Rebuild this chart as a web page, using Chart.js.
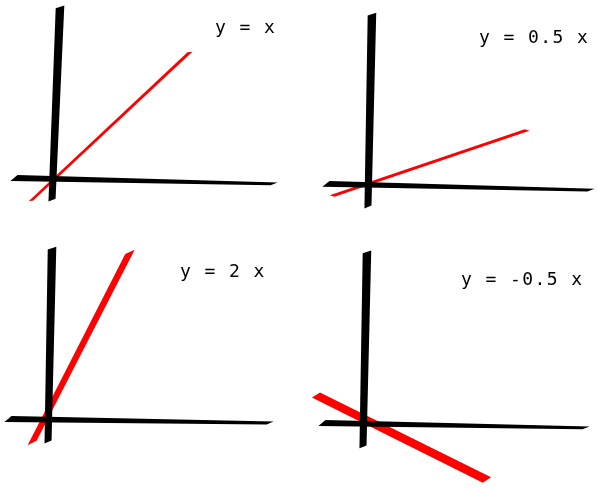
<!DOCTYPE html>
<html>
<head>
<meta charset="utf-8">
<script src="https://cdn.jsdelivr.net/npm/chart.js@4.4.1/dist/chart.umd.min.js"></script>
<style>
  html,body{margin:0;padding:0;background:#fff;}
  #wrap{position:relative;width:598px;height:490px;}
  .panel{position:absolute;width:299px;height:245px;}
</style>
</head>
<body>
<div id="wrap">
  <div class="panel" style="left:0;top:0"><canvas id="c0"></canvas></div>
  <div class="panel" style="left:299px;top:0"><canvas id="c1"></canvas></div>
  <div class="panel" style="left:0;top:245px"><canvas id="c2"></canvas></div>
  <div class="panel" style="left:299px;top:245px"><canvas id="c3"></canvas></div>
</div>
<script>
// one entry per panel: y = x, y = 0.5x, y = 2x, y = -0.5x
const titles = ['y = x', 'y = 0.5 x', 'y = 2 x', 'y = -0.5 x'];
// hand-drawn axes, start/end in data units
const xAxisX = [[-2.30, 10.75], [-1.65, 11.65], [-2.60, 10.55], [-1.85, 11.40]];
const xAxisY = [[0.28, -0.01], [-0.01, -0.31], [0.48, 0.28], [0.28, 0.04]];
const yAxisX = [[-0.39, 0.01], [0.46, 0.66], [-0.59, -0.39], [0.21, 0.41]];
const yAxisY = [[-0.80, 8.66], [-1.14, 8.31], [-0.65, 8.85], [-0.89, 8.66]];
// the red function line
const lineX = [[-1.45, 6.53], [-1.34, 8.44], [-1.39, 3.52], [-2.15, 6.43]];
const lineY = [[-0.84, 6.45], [-0.60, 2.63], [-0.70, 8.66], [1.65, -2.51]];

// styles: stroke widths at start/end, shear of the cut ends
const lineW = [[2.5, 3], [3, 3], [6, 6.5], [8, 8.5]];
const lineShear = [4, 4, 8, -5];
const xAxisW = [6, 3], xAxisShear = -7;
const yAxisW = [7, 8.5], yAxisShear = 3;
const titlePos = [[215, 33], [180, 43], [180, 32], [162, 40]];

function pts(xs, ys){ return xs.map((x,i)=>({x, y:ys[i]})); }

// draws each dataset as a tapered brush stroke between its two points
const brush = {
  id:'brush',
  beforeDatasetDraw(chart, args){
    const ds = chart.data.datasets[args.index], m = args.meta.data;
    if(m.length<2) return false;
    const a = m[0], b = m[1], ctx = chart.ctx;
    const dx=b.x-a.x, dy=b.y-a.y, L=Math.hypot(dx,dy);
    const ux=dx/L, uy=dy/L, nx=-uy, ny=ux;
    const w0=ds.w[0]/2, w1=ds.w[1]/2, s=ds.shear/2;
    ctx.save();
    ctx.beginPath();
    ctx.moveTo(a.x+nx*w0+ux*s, a.y+ny*w0+uy*s);
    ctx.lineTo(b.x+nx*w1+ux*s, b.y+ny*w1+uy*s);
    ctx.lineTo(b.x-nx*w1-ux*s, b.y-ny*w1-uy*s);
    ctx.lineTo(a.x-nx*w0-ux*s, a.y-ny*w0-uy*s);
    ctx.closePath();
    ctx.fillStyle = ds.borderColor;
    ctx.fill();
    ctx.restore();
    return false;
  },
  afterDraw(chart){
    const i = chart.options.plugins.brush.panel, ctx = chart.ctx;
    ctx.save();
    ctx.font = '18px "DejaVu Sans Mono"';
    ctx.letterSpacing = '1.4px';
    ctx.fillStyle = '#000';
    ctx.textBaseline = 'alphabetic';
    ctx.fillText(titles[i], titlePos[i][0], titlePos[i][1]);
    ctx.restore();
  }
};

titles.forEach((t,i)=>{
  new Chart(document.getElementById('c'+i), {
    type:'line',
    data:{ datasets:[
      {label:'y axis', data:pts(yAxisX[i], yAxisY[i]), borderColor:'#000', w:yAxisW, shear:yAxisShear},
      {label:'x axis', data:pts(xAxisX[i], xAxisY[i]), borderColor:'#000', w:xAxisW, shear:xAxisShear},
      {label:t, data:pts(lineX[i], lineY[i]), borderColor:'#ff0000', w:lineW[i], shear:lineShear[i]}
    ]},
    options:{
      responsive:true, maintainAspectRatio:false, animation:false,
      layout:{padding:0},
      elements:{point:{radius:0}},
      scales:{
        x:{type:'linear', min:-3, max:12, display:false},
        y:{type:'linear', min:-3, max:9, display:false}
      },
      plugins:{ legend:{display:false}, tooltip:{enabled:false}, brush:{panel:i} }
    },
    plugins:[brush]
  });
});
</script>
</body>
</html>
